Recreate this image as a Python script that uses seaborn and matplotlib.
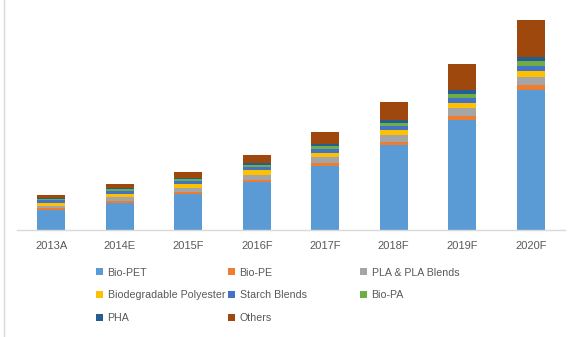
import matplotlib
matplotlib.use("Agg")
import matplotlib.pyplot as plt
from matplotlib.patches import Patch
from matplotlib.lines import Line2D
import pandas as pd
import seaborn as sns

# Market volume by bioplastic type (stacked), actual/estimate/forecast years
years = ["2013A", "2014E", "2015F", "2016F", "2017F", "2018F", "2019F", "2020F"]
bio_pet = [20, 26.7, 36, 48, 64, 84.7, 110, 140]
bio_pe = [2.3, 2.3, 2, 2, 3, 3.3, 4, 5]
pla_blends = [2, 3.7, 4, 4.7, 6, 7, 8, 8]
biodegradable_polyester = [3, 3.3, 4, 5.3, 4, 5, 5, 6]
starch_blends = [2.7, 3, 3, 3, 4, 4, 5, 5]
bio_pa = [1, 2, 2, 2, 3, 3, 4, 5]
pha = [0.7, 1, 1, 1.7, 2, 3, 4, 4]
others = [3.3, 4, 6, 8.3, 12, 18, 26, 37]

series_names = ["Bio-PET", "Bio-PE", "PLA & PLA Blends", "Biodegradable Polyester",
                "Starch Blends", "Bio-PA", "PHA", "Others"]
series_values = [bio_pet, bio_pe, pla_blends, biodegradable_polyester,
                 starch_blends, bio_pa, pha, others]
colors = ["#5B9BD5", "#ED7D31", "#A5A5A5", "#FFC000",
          "#4472C4", "#70AD47", "#255E91", "#9E480E"]

df = pd.DataFrame({name: vals for name, vals in zip(series_names, series_values)}, index=years)
cum = df.cumsum(axis=1)

sns.set_theme(style="white")
plt.rcParams["font.family"] = ["Liberation Sans", "DejaVu Sans"]

W, H = 577, 337
fig = plt.figure(figsize=(W / 100, H / 100), dpi=100)
ax = fig.add_axes([17 / W, 1 - 230 / H, (565 - 17) / W, 220 / H])

# Draw cumulative totals from the top layer down so each layer sits on the one below
for name, color in reversed(list(zip(series_names, colors))):
    plot_df = pd.DataFrame({"year": years, "total": cum[name].values})
    sns.barplot(data=plot_df, x="year", y="total", color=color, width=0.41,
                linewidth=0, saturation=1, ax=ax, order=years)

ax.set_ylim(0, 220)
ax.set_xlim(-0.5, len(years) - 0.5)
ax.set_xlabel("")
ax.set_ylabel("")
ax.set_yticks([])
for side in ["top", "right", "left"]:
    ax.spines[side].set_visible(False)
ax.spines["bottom"].set_color("#D9D9D9")
ax.spines["bottom"].set_linewidth(1.0)
ax.tick_params(axis="x", length=0, pad=8, labelsize=8, labelcolor="#595959")

# Chart border on the left
fig.add_artist(Line2D([3.5 / W, 3.5 / W], [0, 1], color="#D9D9D9", linewidth=1.0))

# Legend in three equal-width columns, filled row by row
handles = [Patch(facecolor=c, edgecolor="none") for c in colors]
col_x = [96, 228, 360]
for col in range(3):
    idx = list(range(col, len(series_names), 3))
    leg = fig.legend([handles[i] for i in idx], [series_names[i] for i in idx],
                     loc="upper left", bbox_to_anchor=(col_x[col] / W, 1 - 267.5 / H),
                     frameon=False, borderpad=0, borderaxespad=0,
                     handlelength=0.68, handleheight=0.68, handletextpad=0.4,
                     labelspacing=1.2, fontsize=7.7, labelcolor="#595959")

fig.savefig("out.png", dpi=100, facecolor="white")
